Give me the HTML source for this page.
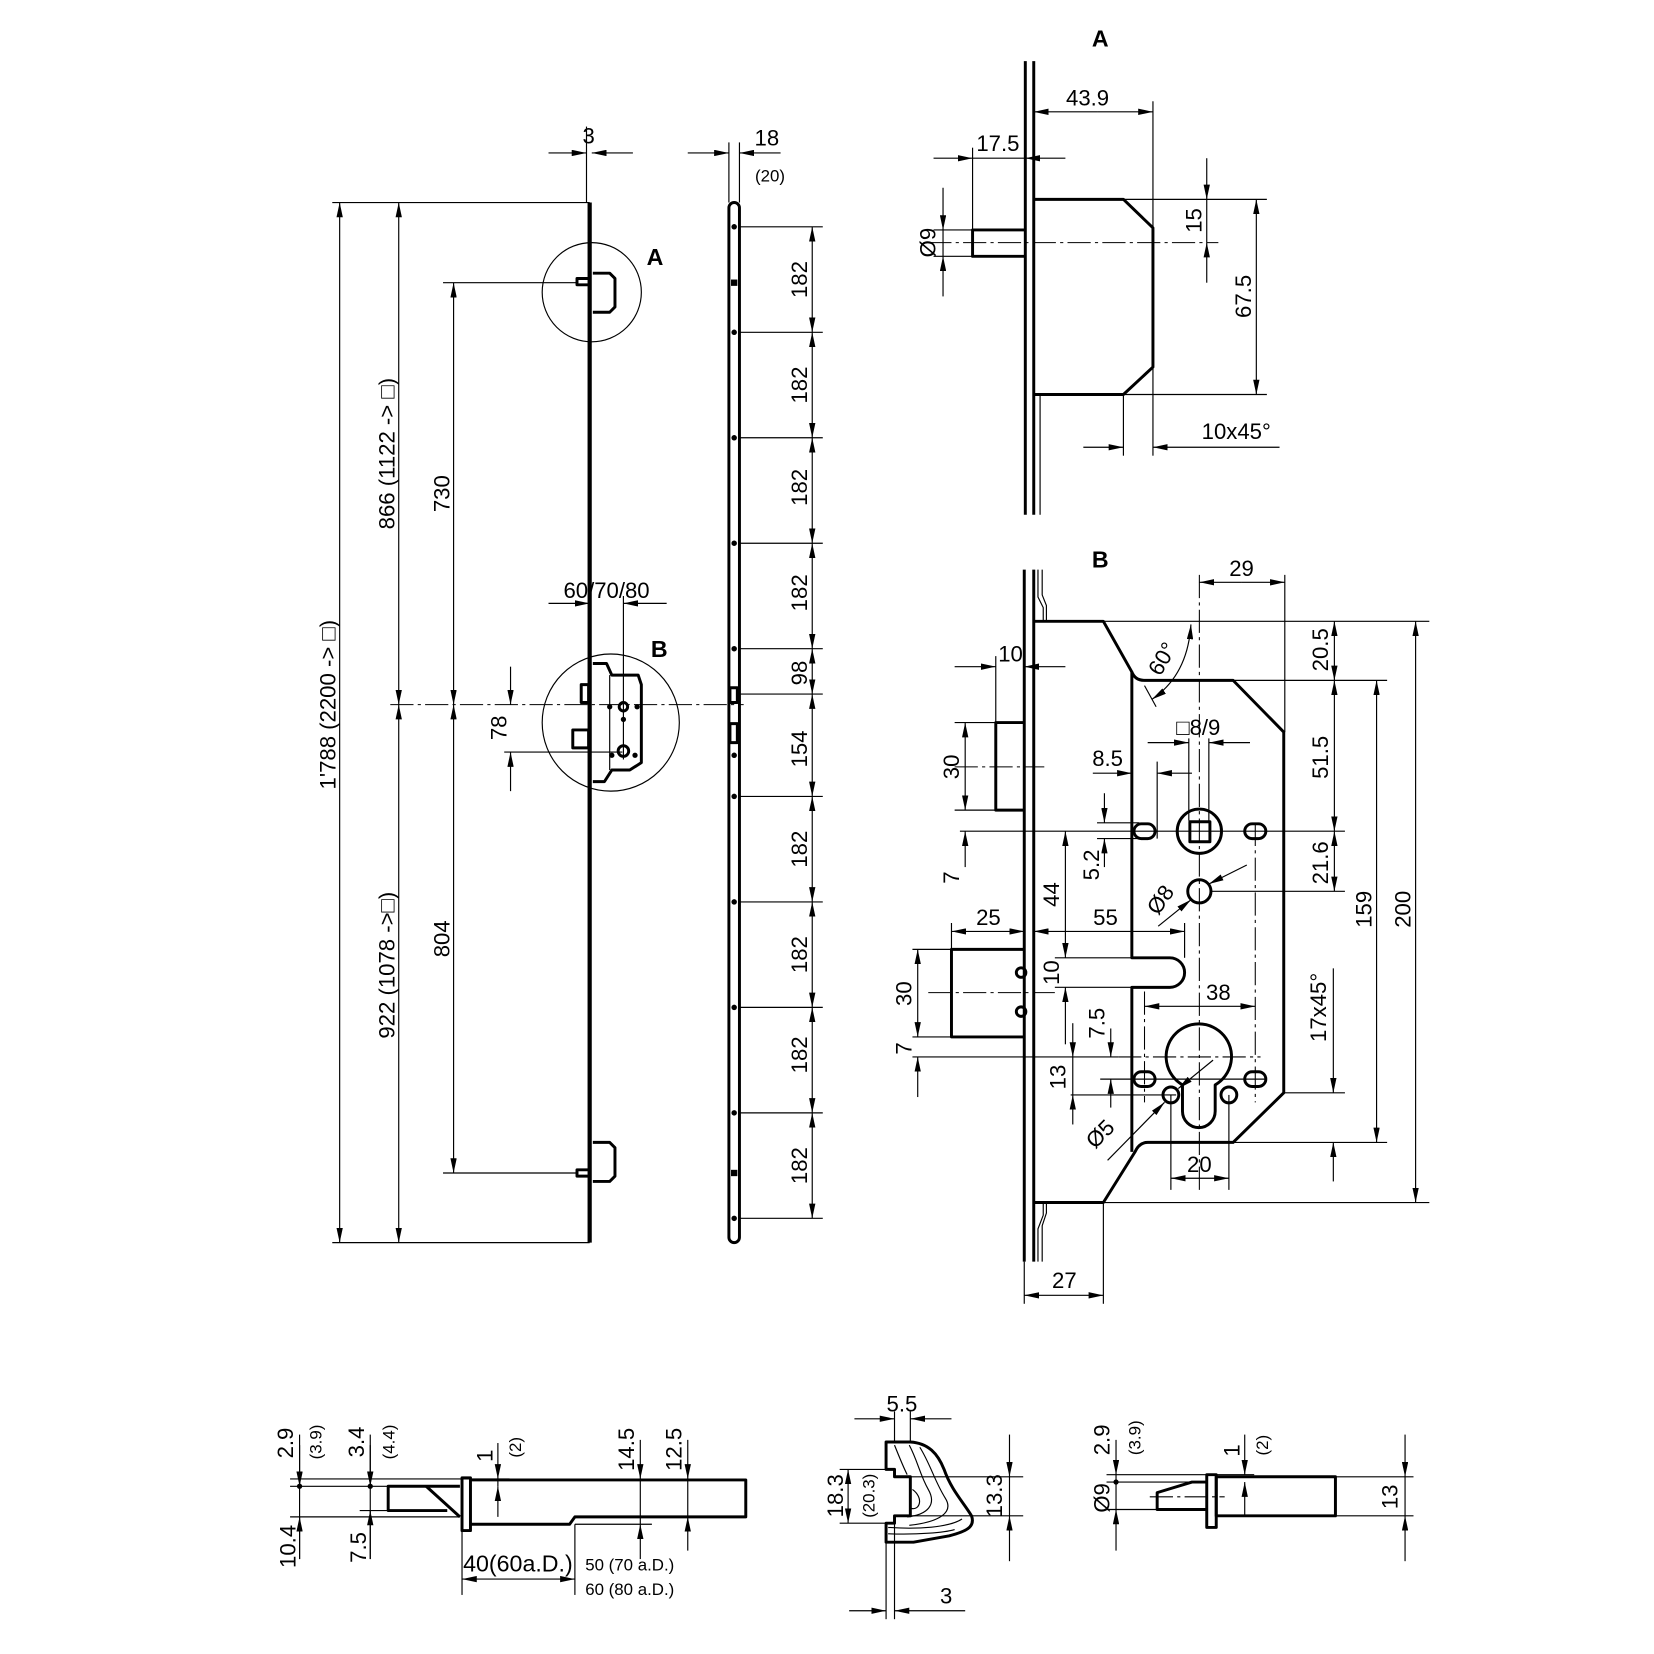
<!DOCTYPE html>
<html><head><meta charset="utf-8">
<style>
html,body{margin:0;padding:0;background:#fff;}
svg{display:block;}
.k{stroke:#000;stroke-width:2.8;fill:none;stroke-linejoin:round;}
.n{stroke:#000;stroke-width:1.1;fill:none;}
.c{stroke:#000;stroke-width:1;fill:none;stroke-dasharray:22 4 3 4;}
.d{stroke:#000;stroke-width:1.1;fill:none;marker-start:url(#a);marker-end:url(#a);}
.e{stroke:#000;stroke-width:1.1;fill:none;marker-end:url(#a);}
text{font-family:"Liberation Sans",sans-serif;font-size:21px;fill:#000;text-anchor:middle;}
.s{font-size:16px;}
.b{font-weight:bold;font-size:22px;}
</style></head><body>
<svg width="1654" height="1654" viewBox="0 0 1568 1568" xmlns="http://www.w3.org/2000/svg">
<defs><marker id="a" viewBox="0 0 14 6" refX="14" refY="3" markerWidth="14" markerHeight="6" markerUnits="userSpaceOnUse" orient="auto-start-reverse"><path d="M0,0 L14,3 L0,6z" fill="#000"/></marker></defs>
<rect width="1568" height="1568" fill="#fff"/>

<!-- ========== LEFT ELEVATION ========== -->
<line x1="559" y1="192" x2="559" y2="1178" stroke="#000" stroke-width="4"/>
<line class="n" x1="315" y1="192" x2="559" y2="192"/>
<line class="n" x1="315" y1="1178" x2="559" y2="1178"/>
<line class="d" x1="322" y1="192" x2="322" y2="1178"/>
<text transform="rotate(-90 318 668)" x="318" y="668">1'788 (2200 -&gt; □)</text>
<line class="d" x1="378" y1="192" x2="378" y2="668"/>
<line class="d" x1="378" y1="668" x2="378" y2="1178"/>
<text transform="rotate(-90 374 430)" x="374" y="430">866 (1122 -&gt; □)</text>
<text transform="rotate(-90 374 915)" x="374" y="915">922 (1078 -&gt;□)</text>
<line class="d" x1="430" y1="268" x2="430" y2="668"/>
<line class="d" x1="430" y1="668" x2="430" y2="1112"/>
<text transform="rotate(-90 426 468)" x="426" y="468">730</text>
<text transform="rotate(-90 426 890)" x="426" y="890">804</text>
<line class="n" x1="420" y1="268" x2="548" y2="268"/>
<line class="n" x1="420" y1="1112" x2="548" y2="1112"/>
<line class="c" x1="370" y1="668" x2="705" y2="668"/>
<path class="k" d="M562,259 L578,259 L583,264 L583,291 L578,296 L562,296"/>
<rect class="k" x="547" y="264" width="12" height="6" stroke-width="2"/>
<circle class="n" cx="561" cy="277" r="47"/>
<path class="k" d="M562,1083 L578,1083 L583,1088 L583,1115 L578,1120 L562,1120"/>
<rect class="k" x="547" y="1109" width="12" height="6" stroke-width="2"/>
<text class="b" x="621" y="251">A</text>
<text class="b" x="625" y="623">B</text>
<circle class="n" cx="579" cy="685" r="65"/>
<path class="k" d="M562,629 L575,629 L580,640 L605,640 L608,649 L608,723 L597,730 L580,730 L573,741 L562,741"/>
<line class="n" x1="578" y1="640" x2="578" y2="730"/>
<rect class="k" x="551" y="649" width="7" height="17" stroke-width="2"/>
<rect class="k" x="543" y="692" width="15" height="17" stroke-width="2"/>
<circle class="k" cx="591" cy="670" r="4" stroke-width="2"/>
<circle cx="578" cy="670" r="2.5"/><circle cx="604" cy="670" r="2.5"/><circle cx="591" cy="682" r="2.5"/>
<circle class="k" cx="591" cy="712" r="5" stroke-width="2"/>
<circle cx="580" cy="716" r="2.5"/><circle cx="602" cy="716" r="2.5"/>
<line class="n" x1="591" y1="565" x2="591" y2="720"/>
<line class="n" x1="478" y1="713" x2="590" y2="713"/>
<line class="n" x1="556" y1="120" x2="556" y2="192"/>
<line class="e" x1="520" y1="145" x2="556" y2="145"/>
<line class="e" x1="600" y1="145" x2="561" y2="145"/>
<text x="558" y="136">3</text>
<line class="e" x1="520" y1="572" x2="559" y2="572"/>
<line class="e" x1="632" y1="572" x2="591" y2="572"/>
<text x="575" y="567">60/70/80</text>
<line class="e" x1="484" y1="632" x2="484" y2="668"/>
<line class="e" x1="484" y1="750" x2="484" y2="713"/>
<text transform="rotate(-90 480 690)" x="480" y="690">78</text>

<!-- ========== STRIP ========== -->
<rect class="k" x="691" y="192" width="10" height="986" rx="5"/>
<g fill="#000">
<circle cx="696" cy="215" r="2.6"/><rect x="693" y="265" width="6" height="6"/><circle cx="696" cy="315" r="2.6"/>
<circle cx="696" cy="415" r="2.6"/><circle cx="696" cy="515" r="2.6"/><circle cx="696" cy="615" r="2.6"/>
<circle cx="696" cy="755" r="2.6"/><circle cx="696" cy="855" r="2.6"/><circle cx="696" cy="955" r="2.6"/>
<circle cx="696" cy="1055" r="2.6"/><rect x="693" y="1109" width="6" height="6"/><circle cx="696" cy="1155" r="2.6"/>
<circle cx="696" cy="716" r="2.6"/>
</g>
<rect class="k" x="692" y="652" width="7" height="14" stroke-width="2"/>
<rect class="k" x="692" y="686" width="7" height="18" stroke-width="2"/>
<g class="n">
<line x1="701" y1="215" x2="780" y2="215"/><line x1="701" y1="315" x2="780" y2="315"/><line x1="701" y1="415" x2="780" y2="415"/>
<line x1="701" y1="515" x2="780" y2="515"/><line x1="701" y1="615" x2="780" y2="615"/><line x1="701" y1="658" x2="780" y2="658"/>
<line x1="701" y1="755" x2="780" y2="755"/><line x1="701" y1="855" x2="780" y2="855"/><line x1="701" y1="955" x2="780" y2="955"/>
<line x1="701" y1="1055" x2="780" y2="1055"/><line x1="701" y1="1155" x2="780" y2="1155"/>
</g>
<line class="d" x1="770" y1="215" x2="770" y2="315"/><line class="d" x1="770" y1="315" x2="770" y2="415"/>
<line class="d" x1="770" y1="415" x2="770" y2="515"/><line class="d" x1="770" y1="515" x2="770" y2="615"/>
<line class="d" x1="770" y1="615" x2="770" y2="658"/><line class="d" x1="770" y1="658" x2="770" y2="755"/>
<line class="d" x1="770" y1="755" x2="770" y2="855"/><line class="d" x1="770" y1="855" x2="770" y2="955"/>
<line class="d" x1="770" y1="955" x2="770" y2="1055"/><line class="d" x1="770" y1="1055" x2="770" y2="1155"/>
<g>
<text transform="rotate(-90 765 265)" x="765" y="265">182</text>
<text transform="rotate(-90 765 365)" x="765" y="365">182</text>
<text transform="rotate(-90 765 462)" x="765" y="462">182</text>
<text transform="rotate(-90 765 562)" x="765" y="562">182</text>
<text transform="rotate(-90 765 638)" x="765" y="638">98</text>
<text transform="rotate(-90 765 710)" x="765" y="710">154</text>
<text transform="rotate(-90 765 805)" x="765" y="805">182</text>
<text transform="rotate(-90 765 905)" x="765" y="905">182</text>
<text transform="rotate(-90 765 1000)" x="765" y="1000">182</text>
<text transform="rotate(-90 765 1105)" x="765" y="1105">182</text>
</g>
<line class="n" x1="691" y1="135" x2="691" y2="192"/><line class="n" x1="701" y1="135" x2="701" y2="192"/>
<line class="e" x1="652" y1="145" x2="691" y2="145"/><line class="e" x1="740" y1="145" x2="701" y2="145"/>
<text x="727" y="138">18</text>
<text class="s" x="730" y="172">(20)</text>

<!-- ========== VIEW A ========== -->
<text class="b" x="1043" y="44">A</text>
<line class="k" x1="972" y1="58" x2="972" y2="488"/>
<line class="k" x1="980" y1="58" x2="980" y2="488"/>
<line class="n" x1="986" y1="374" x2="986" y2="488" stroke-width="2"/>
<path class="k" d="M981,189 L1065,189 L1093,216 L1093,348 L1065,374 L981,374"/>
<path class="k" d="M972,218 L922,218 L922,243 L972,243"/>
<line class="c" x1="880" y1="230" x2="1155" y2="230"/>
<line class="n" x1="1093" y1="96" x2="1093" y2="216"/>
<line class="e" x1="1040" y1="106" x2="980" y2="106"/><line class="e" x1="1040" y1="106" x2="1093" y2="106"/>
<text x="1031" y="100">43.9</text>
<line class="n" x1="922" y1="140" x2="922" y2="218"/>
<line class="e" x1="885" y1="150" x2="922" y2="150"/><line class="e" x1="1010" y1="150" x2="972" y2="150"/>
<line class="n" x1="922" y1="150" x2="972" y2="150"/>
<text x="946" y="143">17.5</text>
<line class="n" x1="885" y1="218" x2="922" y2="218"/><line class="n" x1="885" y1="243" x2="922" y2="243"/>
<line class="e" x1="894" y1="178" x2="894" y2="218"/><line class="e" x1="894" y1="281" x2="894" y2="243"/>
<line class="n" x1="894" y1="218" x2="894" y2="243"/>
<text transform="rotate(-90 887 230)" x="887" y="230">Ø9</text>
<line class="n" x1="1065" y1="189" x2="1201" y2="189"/>
<line class="e" x1="1144" y1="150" x2="1144" y2="189"/><line class="e" x1="1144" y1="268" x2="1144" y2="230"/>
<line class="n" x1="1144" y1="189" x2="1144" y2="230"/>
<text transform="rotate(-90 1139 209)" x="1139" y="209">15</text>
<line class="d" x1="1191" y1="189" x2="1191" y2="374"/>
<line class="n" x1="1065" y1="374" x2="1201" y2="374"/>
<text transform="rotate(-90 1186 281)" x="1186" y="281">67.5</text>
<line class="n" x1="1065" y1="374" x2="1065" y2="432"/><line class="n" x1="1093" y1="348" x2="1093" y2="432"/>
<line class="e" x1="1027" y1="424" x2="1065" y2="424"/><line class="e" x1="1213" y1="424" x2="1093" y2="424"/>
<text x="1172" y="416">10x45°</text>

<!-- ========== VIEW B ========== -->
<text class="b" x="1043" y="538">B</text>
<line class="k" x1="971" y1="540" x2="971" y2="1196"/>
<line class="k" x1="980" y1="540" x2="980" y2="1196"/>
<path class="n" d="M984,540 L984,566 L989,576 L989,589" stroke-width="1.8"/>
<path class="n" d="M988,540 L988,564 L992,574 L992,589" stroke-width="1.4"/>
<path class="n" d="M984,1196 L984,1165 L989,1152 L989,1140" stroke-width="1.8"/>
<path class="n" d="M988,1196 L988,1162 L992,1150 L992,1140" stroke-width="1.4"/>
<path class="k" d="M980,589 L1046,589 L1073,637 Q1076,645 1085,645 L1169,645 L1217,694 L1217,1036 L1169,1083 L1088,1083 Q1080,1083 1076,1092 L1046,1140 L980,1140"/>
<path class="k" d="M1073,637 L1073,908 L1109,908 A14,14 0 0 1 1109,936 L1073,936 L1073,1092"/>
<path class="k" d="M971,685 L944,685 L944,768 L971,768"/>
<path class="k" d="M971,900 L902,900 L902,983 L971,983"/>
<circle class="k" cx="968" cy="922" r="4.5" stroke-width="2.2"/><circle class="k" cx="968" cy="959" r="4.5" stroke-width="2.2"/>
<line class="c" x1="905" y1="727" x2="990" y2="727"/>
<line class="c" x1="880" y1="941" x2="1000" y2="941"/>
<circle class="k" cx="1137" cy="788" r="21"/>
<rect class="k" x="1128" y="779" width="19" height="19" stroke-width="2.4"/>
<rect class="k" x="1075" y="781" width="20" height="14" rx="7" stroke-width="2.4"/>
<rect class="k" x="1180" y="781" width="20" height="14" rx="7" stroke-width="2.4"/>
<circle class="k" cx="1137" cy="845" r="11"/>
<path class="k" d="M1121,1028.5 A31,31 0 1 1 1152,1028.5 L1152,1053.5 A15.5,15.5 0 0 1 1121,1053.5 Z"/>
<circle class="k" cx="1110" cy="1038" r="7.5" stroke-width="2.4"/><circle class="k" cx="1165" cy="1038" r="7.5" stroke-width="2.4"/>
<rect class="k" x="1075" y="1016" width="20" height="14" rx="7" stroke-width="2.4"/>
<rect class="k" x="1180" y="1016" width="20" height="14" rx="7" stroke-width="2.4"/>
<line class="c" x1="1137" y1="545" x2="1137" y2="1130"/>
<line class="c" x1="1085" y1="940" x2="1085" y2="1045"/>
<line class="c" x1="1190" y1="780" x2="1190" y2="1045"/>
<line class="c" x1="1060" y1="1002" x2="1195" y2="1002"/>
<line class="n" x1="1218" y1="545" x2="1218" y2="694"/>
<line class="e" x1="1177" y1="552" x2="1137" y2="552"/><line class="e" x1="1177" y1="552" x2="1218" y2="552"/>
<text x="1177" y="546">29</text>
<line class="n" x1="1046" y1="589" x2="1355" y2="589"/>
<line class="n" x1="1169" y1="645" x2="1315" y2="645"/>
<line class="d" x1="1265" y1="589" x2="1265" y2="645"/>
<text transform="rotate(-90 1259 616)" x="1259" y="616">20.5</text>
<line class="d" x1="1265" y1="645" x2="1265" y2="788"/>
<text transform="rotate(-90 1259 718)" x="1259" y="718">51.5</text>
<line class="d" x1="1265" y1="788" x2="1265" y2="845"/>
<text transform="rotate(-90 1259 818)" x="1259" y="818">21.6</text>
<line class="n" x1="910" y1="788" x2="1275" y2="788"/>
<line class="n" x1="1148" y1="845" x2="1275" y2="845"/>
<line class="d" x1="1305" y1="645" x2="1305" y2="1083"/>
<text transform="rotate(-90 1300 862)" x="1300" y="862">159</text>
<line class="d" x1="1342" y1="589" x2="1342" y2="1140"/>
<text transform="rotate(-90 1337 862)" x="1337" y="862">200</text>
<line class="n" x1="1046" y1="1140" x2="1355" y2="1140"/>
<line class="n" x1="1169" y1="1083" x2="1315" y2="1083"/>
<line class="n" x1="1218" y1="1036" x2="1275" y2="1036"/>
<line class="e" x1="1264" y1="918" x2="1264" y2="1036"/><line class="e" x1="1264" y1="1120" x2="1264" y2="1083"/>
<text transform="rotate(-90 1257 955)" x="1257" y="955">17x45°</text>
<path class="n" d="M1092,663 Q1126,640 1129,592" marker-start="url(#a)" marker-end="url(#a)"/>
<text transform="rotate(-60 1108 628)" x="1108" y="628">60°</text>
<line class="n" x1="1085" y1="650" x2="1096" y2="670"/>
<line class="n" x1="1127" y1="700" x2="1127" y2="778"/><line class="n" x1="1146" y1="700" x2="1146" y2="778"/>
<line class="e" x1="1088" y1="704" x2="1127" y2="704"/><line class="e" x1="1185" y1="704" x2="1146" y2="704"/>
<text x="1136" y="697">□8/9</text>
<line class="n" x1="1097" y1="722" x2="1097" y2="795"/>
<line class="e" x1="1036" y1="733" x2="1073" y2="733"/><line class="e" x1="1130" y1="733" x2="1097" y2="733"/>
<text x="1050" y="726">8.5</text>
<line class="n" x1="1040" y1="780" x2="1080" y2="780"/><line class="n" x1="1040" y1="795" x2="1080" y2="795"/>
<line class="e" x1="1047" y1="752" x2="1047" y2="780"/><line class="e" x1="1047" y1="822" x2="1047" y2="795"/>
<text transform="rotate(-90 1042 820)" x="1042" y="820">5.2</text>
<line class="e" x1="1098" y1="878" x2="1129" y2="853"/><line class="e" x1="1182" y1="820" x2="1146" y2="838"/>
<text transform="rotate(-55 1106 857)" x="1106" y="857">Ø8</text>
<line class="n" x1="944" y1="622" x2="944" y2="685"/>
<line class="e" x1="905" y1="632" x2="944" y2="632"/><line class="e" x1="1010" y1="632" x2="971" y2="632"/>
<text x="958" y="627">10</text>
<line class="n" x1="905" y1="685" x2="944" y2="685"/><line class="n" x1="905" y1="768" x2="944" y2="768"/>
<line class="d" x1="915" y1="685" x2="915" y2="768"/>
<text transform="rotate(-90 909 727)" x="909" y="727">30</text>
<line class="e" x1="915" y1="822" x2="915" y2="788"/>
<text transform="rotate(-90 909 832)" x="909" y="832">7</text>
<line class="d" x1="1010" y1="788" x2="1010" y2="908"/>
<text transform="rotate(-90 1004 848)" x="1004" y="848">44</text>
<line class="n" x1="1000" y1="908" x2="1073" y2="908"/><line class="n" x1="1000" y1="936" x2="1073" y2="936"/>
<line class="e" x1="1010" y1="990" x2="1010" y2="936"/>
<text transform="rotate(-90 1004 922)" x="1004" y="922">10</text>
<line class="n" x1="902" y1="875" x2="902" y2="900"/><line class="n" x1="1123" y1="875" x2="1123" y2="908"/>
<line class="d" x1="902" y1="883" x2="971" y2="883"/><line class="d" x1="980" y1="883" x2="1123" y2="883"/>
<text x="937" y="877">25</text><text x="1048" y="877">55</text>
<line class="n" x1="865" y1="900" x2="902" y2="900"/><line class="n" x1="865" y1="983" x2="902" y2="983"/>
<line class="n" x1="865" y1="1002" x2="1060" y2="1002"/>
<line class="d" x1="870" y1="900" x2="870" y2="983"/>
<text transform="rotate(-90 864 942)" x="864" y="942">30</text>
<line class="e" x1="870" y1="1040" x2="870" y2="1002"/>
<text transform="rotate(-90 864 994)" x="864" y="994">7</text>
<line class="d" x1="1085" y1="954" x2="1190" y2="954"/>
<text x="1155" y="948">38</text>
<line class="n" x1="1043" y1="1023" x2="1200" y2="1023"/><line class="n" x1="1015" y1="1038" x2="1115" y2="1038"/>
<line class="e" x1="1053" y1="975" x2="1053" y2="1002"/><line class="e" x1="1053" y1="1050" x2="1053" y2="1023"/>
<text transform="rotate(-90 1047 970)" x="1047" y="970">7.5</text>
<line class="e" x1="1017" y1="970" x2="1017" y2="1002"/><line class="e" x1="1017" y1="1066" x2="1017" y2="1038"/>
<line class="n" x1="1017" y1="1002" x2="1017" y2="1038"/>
<text transform="rotate(-90 1010 1021)" x="1010" y="1021">13</text>
<line class="e" x1="1050" y1="1100" x2="1104" y2="1045"/><line class="e" x1="1150" y1="1005" x2="1117" y2="1032"/>
<text transform="rotate(-45 1048 1080)" x="1048" y="1080">Ø5</text>
<line class="n" x1="1110" y1="1038" x2="1110" y2="1128"/><line class="n" x1="1165" y1="1038" x2="1165" y2="1128"/>
<line class="d" x1="1110" y1="1117" x2="1165" y2="1117"/>
<text x="1137" y="1111">20</text>
<line class="n" x1="971" y1="1196" x2="971" y2="1236"/><line class="n" x1="1046" y1="1140" x2="1046" y2="1236"/>
<line class="d" x1="971" y1="1228" x2="1046" y2="1228"/>
<text x="1009" y="1221">27</text>

<!-- ========== BOTTOM LEFT HOOK BOLT ========== -->
<path class="k" d="M446,1403 L707,1403 L707,1438 L545,1438 L540,1445 L446,1445"/>
<rect class="k" x="438" y="1401" width="8" height="50"/>
<path class="k" d="M436,1409 L368,1409 L368,1432 L424,1432"/>
<line class="k" x1="404" y1="1409" x2="436" y2="1438"/>
<line class="n" x1="275" y1="1402" x2="483" y2="1402"/>
<line class="n" x1="275" y1="1409" x2="368" y2="1409"/>
<line class="n" x1="341" y1="1432" x2="368" y2="1432"/>
<line class="n" x1="275" y1="1438" x2="436" y2="1438"/>
<line class="n" x1="545" y1="1445" x2="618" y2="1445"/>
<circle cx="284" cy="1409" r="2.5"/><circle cx="351" cy="1409" r="2.5"/>
<line class="n" x1="284" y1="1360" x2="284" y2="1478"/>
<line class="e" x1="284" y1="1370" x2="284" y2="1409"/><line class="e" x1="284" y1="1478" x2="284" y2="1438"/>
<line class="n" x1="351" y1="1360" x2="351" y2="1478"/>
<line class="e" x1="351" y1="1370" x2="351" y2="1409"/><line class="e" x1="351" y1="1478" x2="351" y2="1432"/>
<line class="e" x1="472" y1="1368" x2="472" y2="1402"/><line class="e" x1="472" y1="1438" x2="472" y2="1409"/>
<line class="n" x1="472" y1="1402" x2="472" y2="1409"/>
<line class="e" x1="607" y1="1365" x2="607" y2="1402"/><line class="e" x1="607" y1="1478" x2="607" y2="1445"/>
<line class="n" x1="607" y1="1402" x2="607" y2="1445"/>
<line class="e" x1="652" y1="1365" x2="652" y2="1402"/><line class="e" x1="652" y1="1470" x2="652" y2="1438"/>
<line class="n" x1="652" y1="1402" x2="652" y2="1438"/>
<text transform="rotate(-90 278 1368)" x="278" y="1368">2.9</text>
<text class="s" transform="rotate(-90 305 1367)" x="305" y="1367">(3.9)</text>
<text transform="rotate(-90 345 1367)" x="345" y="1367">3.4</text>
<text class="s" transform="rotate(-90 374 1367)" x="374" y="1367">(4.4)</text>
<text transform="rotate(-90 467 1380)" x="467" y="1380">1</text>
<text class="s" transform="rotate(-90 494 1372)" x="494" y="1372">(2)</text>
<text transform="rotate(-90 601 1374)" x="601" y="1374">14.5</text>
<text transform="rotate(-90 646 1374)" x="646" y="1374">12.5</text>
<text transform="rotate(-90 280 1466)" x="280" y="1466">10.4</text>
<text transform="rotate(-90 347 1467)" x="347" y="1467">7.5</text>
<line class="n" x1="438" y1="1450" x2="438" y2="1512"/><line class="n" x1="545" y1="1445" x2="545" y2="1512"/>
<line class="d" x1="438" y1="1497" x2="545" y2="1497"/>
<text x="491" y="1490" style="font-size:22px">40(60a.D.)</text>
<text x="597" y="1489" style="font-size:16px">50 (70 a.D.)</text>
<text x="597" y="1512" style="font-size:16px">60 (80 a.D.)</text>

<!-- ========== PROFILE ========== -->
<path class="k" d="M840,1367 L863,1367 C880,1368 889,1378 895,1393 C902,1413 914,1425 921,1437 C925,1448 915,1452 900,1456 L866,1462 L840,1462 L840,1444 L848,1444 L848,1437 L863,1437 L863,1400 L848,1400 L848,1393 L840,1393 Z"/>
<g class="n" stroke-width="0.9">
<path d="M848,1370 C852,1380 856,1390 860,1398"/>
<path d="M862,1370 C870,1385 872,1398 880,1412 C888,1426 880,1436 860,1438"/>
<path d="M872,1372 C882,1388 886,1404 896,1420 C905,1434 890,1443 862,1446"/>
<path d="M865,1412 C876,1420 872,1432 864,1430"/>
<path d="M842,1448 C870,1450 900,1448 912,1440"/>
<path d="M842,1454 C870,1455 895,1453 905,1450"/>
</g>
<line class="n" x1="848" y1="1338" x2="848" y2="1367"/><line class="n" x1="863" y1="1338" x2="863" y2="1367"/>
<line class="e" x1="810" y1="1345" x2="848" y2="1345"/><line class="e" x1="902" y1="1345" x2="863" y2="1345"/>
<text x="855" y="1338">5.5</text>
<line class="n" x1="796" y1="1393" x2="840" y2="1393"/><line class="n" x1="796" y1="1444" x2="840" y2="1444"/>
<line class="d" x1="804" y1="1393" x2="804" y2="1444"/>
<text transform="rotate(-90 799 1418)" x="799" y="1418">18.3</text>
<text class="s" transform="rotate(-90 829 1418)" x="829" y="1418">(20.3)</text>
<line class="n" x1="863" y1="1400" x2="970" y2="1400"/><line class="n" x1="863" y1="1437" x2="970" y2="1437"/>
<line class="e" x1="957" y1="1360" x2="957" y2="1400"/><line class="e" x1="957" y1="1480" x2="957" y2="1437"/>
<line class="n" x1="957" y1="1400" x2="957" y2="1437"/>
<text transform="rotate(-90 950 1418)" x="950" y="1418">13.3</text>
<line class="n" x1="840" y1="1462" x2="840" y2="1535"/><line class="n" x1="848" y1="1444" x2="848" y2="1535"/>
<line class="e" x1="805" y1="1527" x2="840" y2="1527"/><line class="e" x1="915" y1="1527" x2="848" y2="1527"/>
<text x="897" y="1520">3</text>

<!-- ========== RIGHT PIN ========== -->
<rect class="k" x="1144" y="1398" width="9" height="50"/>
<rect class="k" x="1153" y="1400" width="113" height="37"/>
<path class="k" d="M1144,1405 L1130,1405 L1097,1415 L1097,1431 L1144,1431"/>
<line class="c" x1="1090" y1="1419" x2="1161" y2="1419"/>
<line class="n" x1="1049" y1="1398" x2="1189" y2="1398"/>
<line class="n" x1="1049" y1="1405" x2="1130" y2="1405"/>
<line class="n" x1="1049" y1="1431" x2="1097" y2="1431"/>
<circle cx="1058" cy="1405" r="2.5"/>
<line class="e" x1="1058" y1="1365" x2="1058" y2="1398"/><line class="n" x1="1058" y1="1398" x2="1058" y2="1431"/>
<line class="e" x1="1058" y1="1470" x2="1058" y2="1431"/>
<text transform="rotate(-90 1052 1365)" x="1052" y="1365">2.9</text>
<text class="s" transform="rotate(-90 1081 1363)" x="1081" y="1363">(3.9)</text>
<text transform="rotate(-90 1052 1420)" x="1052" y="1420">Ø9</text>
<line class="e" x1="1180" y1="1360" x2="1180" y2="1398"/><line class="e" x1="1180" y1="1437" x2="1180" y2="1405"/>
<text transform="rotate(-90 1175 1375)" x="1175" y="1375">1</text>
<text class="s" transform="rotate(-90 1202 1370)" x="1202" y="1370">(2)</text>
<line class="n" x1="1266" y1="1400" x2="1340" y2="1400"/><line class="n" x1="1266" y1="1437" x2="1340" y2="1437"/>
<line class="e" x1="1332" y1="1360" x2="1332" y2="1400"/><line class="e" x1="1332" y1="1480" x2="1332" y2="1437"/>
<line class="n" x1="1332" y1="1400" x2="1332" y2="1437"/>
<text transform="rotate(-90 1325 1419)" x="1325" y="1419">13</text>
</svg>
</body></html>
